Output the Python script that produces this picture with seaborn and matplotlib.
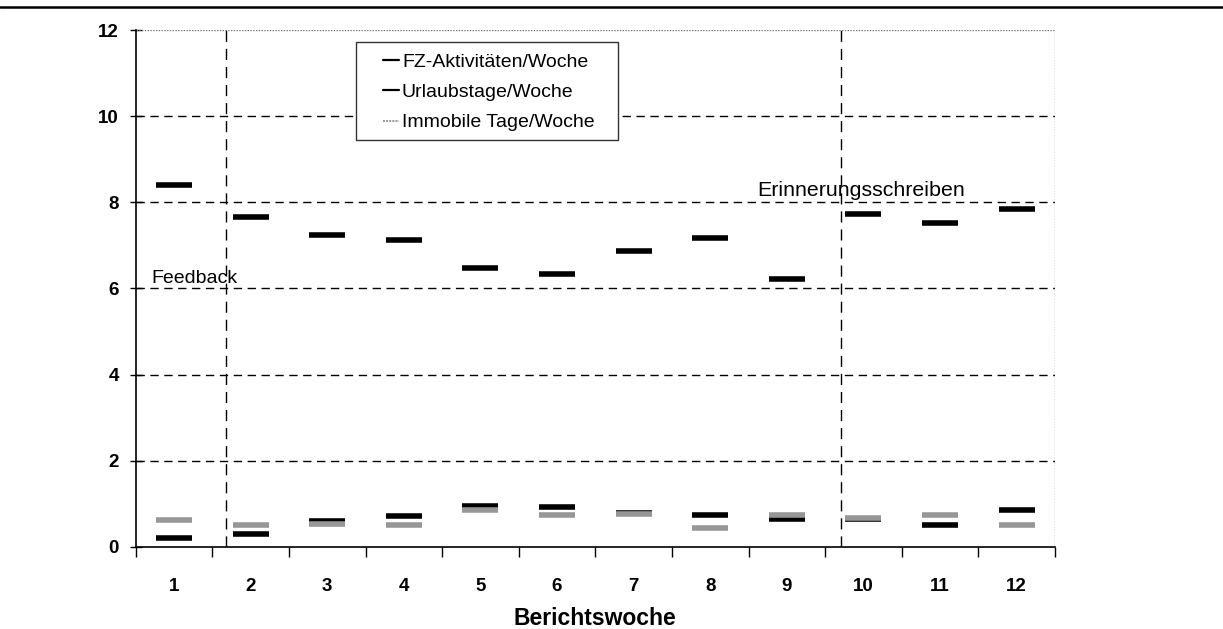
import matplotlib
matplotlib.use("Agg")
import matplotlib.pyplot as plt
from matplotlib.lines import Line2D
from matplotlib.patches import Rectangle
import numpy as np
import pandas as pd
import seaborn as sns

# Weekly averages per reporting week
weeks = [1, 2, 3, 4, 5, 6, 7, 8, 9, 10, 11, 12]
fz_aktivitaeten = [8.41, 7.67, 7.24, 7.12, 6.47, 6.34, 6.86, 7.17, 6.22, 7.74, 7.52, 7.84]
urlaubstage = [0.22, 0.31, 0.60, 0.73, 0.94, 0.93, 0.79, 0.74, 0.64, 0.65, 0.52, 0.85]
immobile_tage = [0.62, 0.51, 0.53, 0.51, 0.85, 0.74, 0.77, 0.43, 0.74, 0.68, 0.74, 0.52]

series_names = ["FZ-Aktivitäten/Woche", "Urlaubstage/Woche", "Immobile Tage/Woche"]
series_colors = ["#000000", "#000000", "#969696"]

# Events marked with vertical dashed lines
event_positions = [1.68, 9.71]
event_labels = ["Feedback", "Erinnerungsschreiben"]
event_label_xy = [(0.71, 6.12), (8.61, 8.15)]
event_label_sizes = [14, 15.4]

y_ticks = [0, 2, 4, 6, 8, 10, 12]

df = pd.DataFrame({
    "Berichtswoche": weeks * 3,
    "Wert": fz_aktivitaeten + urlaubstage + immobile_tage,
    "Reihe": [series_names[0]] * 12 + [series_names[1]] * 12 + [series_names[2]] * 12,
})

sns.set_theme(style="white")
plt.rcParams["font.family"] = ["Liberation Sans", "DejaVu Sans"]
plt.rcParams["text.color"] = "black"
plt.rcParams["axes.labelcolor"] = "black"
plt.rcParams["xtick.color"] = "black"
plt.rcParams["ytick.color"] = "black"

fig = plt.figure(figsize=(12.23, 6.29), dpi=100)
ax = fig.add_axes([0.111, 0.1304, 0.7516, 0.8219])

ax.set_xlim(0.5, 12.5)
ax.set_ylim(0, 12)

# horizontal grid
for yv in y_ticks[1:-1]:
    ax.axhline(yv, color="black", lw=1.0, ls=(0, (6, 4)), zorder=1)
ax.axhline(12, color="#777777", lw=1.0, ls=(0, (1, 1)), zorder=1)

# event lines
for xv in event_positions:
    ax.axvline(xv, color="black", lw=1.0, ls=(0, (8, 5)), zorder=1)

# bar-like markers for each series
for name, col in zip(series_names, series_colors):
    sub = df[df["Reihe"] == name]
    sns.scatterplot(data=sub, x="Berichtswoche", y="Wert", ax=ax, marker="_",
                    s=680, linewidth=4.0, color=col, legend=False, zorder=3)

# event labels
for (tx, ty), lab, fs in zip(event_label_xy, event_labels, event_label_sizes):
    ax.text(tx, ty, lab, fontsize=fs, ha="left", va="baseline", color="black", zorder=4)

# spines
for side in ["top", "right"]:
    ax.spines[side].set_visible(False)
ax.axvline(12.5, color="#777777", lw=1.0, ls=(0, (1, 1)), zorder=1)
ax.spines["left"].set_color("black")
ax.spines["bottom"].set_color("black")
ax.spines["left"].set_linewidth(1.2)
ax.spines["bottom"].set_linewidth(1.2)

# y axis
ax.set_yticks(y_ticks)
ax.set_yticklabels([str(v) for v in y_ticks], fontsize=13.5, fontweight="bold")
ax.tick_params(axis="y", direction="inout", length=8, width=1, color="black",
               labelcolor="black", pad=8, left=True)

# x axis: tick marks at week boundaries, labels at centers
ax.set_xticks(np.arange(0.5, 13, 1.0))
ax.set_xticklabels([])
ax.set_xticks(weeks, minor=True)
ax.set_xticklabels([str(w) for w in weeks], minor=True, fontsize=13.5, fontweight="bold")
ax.tick_params(axis="x", which="major", direction="out", length=7, width=1, color="black", bottom=True)
ax.tick_params(axis="x", which="minor", length=0, pad=22, labelcolor="black")
ax.set_xlabel("Berichtswoche", fontsize=16.5, fontweight="bold", labelpad=9, color="black")
ax.set_ylabel("")

# legend with a separately drawn frame
box = Rectangle((0.2396, 0.787), 0.2845, 0.19, transform=ax.transAxes,
                facecolor="white", edgecolor="#333333", lw=1.0, zorder=5)
ax.add_patch(box)
handles = [Line2D([0], [0], color=c, lw=1.6 if i < 2 else 1.4,
                  ls="-" if i < 2 else (0, (1, 0.6))) for i, c in enumerate(series_colors)]
leg = ax.legend(handles, series_names, loc="upper left", bbox_to_anchor=(0.2695, 0.955),
                fontsize=14, handlelength=0.8, handletextpad=0.15, labelspacing=0.65,
                frameon=False, borderpad=0, borderaxespad=0, labelcolor="black")
leg.set_zorder(6)

# page rule across the top
fig.add_artist(Line2D([0, 1], [1 - 7 / 629, 1 - 7 / 629], transform=fig.transFigure,
                      color="black", lw=1.8))

fig.savefig("out.png", dpi=100)
